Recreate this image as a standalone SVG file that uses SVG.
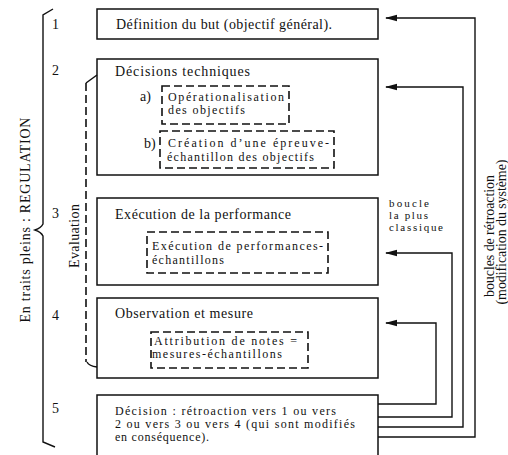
<svg xmlns="http://www.w3.org/2000/svg" width="508" height="455" viewBox="0 0 508 455">
<style>
text{font-family:"Liberation Serif","Times New Roman",serif;font-size:12px;fill:#111}
.h{font-size:14px}
.s{font-size:11px}
.box{fill:none;stroke:#111;stroke-width:1.5}
.dash{fill:none;stroke:#111;stroke-width:1.6;stroke-dasharray:8 4}
.line{fill:none;stroke:#111;stroke-width:1.4}
</style>
<defs>
<marker id="ah" viewBox="0 0 12 8" refX="11" refY="4" markerWidth="12" markerHeight="8" markerUnits="userSpaceOnUse" orient="auto">
<path d="M0,4 L12,0.8 L12,7.2 Z" fill="#111" transform="rotate(180 6 4)"/>
</marker>
</defs>
<rect width="508" height="455" fill="#fff"/>

<g id="regulation-brace">
<path class="line" d="M53,9 L43,15 L43,224 Q41,228 35,230 Q41,232 43,236 L43,442 L55,447"/>
<text class="h" transform="translate(30,220) rotate(-90)" text-anchor="middle" textLength="205">En traits pleins : REGULATION</text>
</g>

<g id="evaluation-bracket">
<path class="dash" d="M86,83 L86,362"/>
<path class="line" d="M86,83 L97,75"/>
<path class="line" d="M87,362 Q89,366 97,367"/>
<text class="h" transform="translate(79,236) rotate(-90)" text-anchor="middle" textLength="64">Evaluation</text>
</g>

<g id="numbers">
<text class="h" x="52" y="29">1</text>
<text class="h" x="52" y="75">2</text>
<text class="h" x="52" y="218">3</text>
<text class="h" x="52" y="320">4</text>
<text class="h" x="52" y="413">5</text>
</g>

<g id="node1">
<rect class="box" x="97" y="9" width="281" height="30"/>
<text class="h" x="116" y="29" textLength="216">Définition du but (objectif général).</text>
</g>

<g id="node2">
<rect class="box" x="97" y="59" width="281" height="116"/>
<text class="h" x="115" y="76" textLength="135">Décisions techniques</text>
<text class="h" x="140" y="101">a)</text>
<text class="h" x="144" y="148">b)</text>
</g>
<g id="node2a">
<rect class="dash" x="162" y="86" width="127" height="38"/>
<text x="168" y="101" textLength="116">Opérationalisation</text>
<text x="168" y="114" textLength="77">des objectifs</text>
</g>
<g id="node2b">
<rect class="dash" x="160" y="131" width="174" height="37"/>
<text x="168" y="147" textLength="161">Création d’une épreuve-</text>
<text x="167" y="161" textLength="147">échantillon des objectifs</text>
</g>

<g id="node3">
<rect class="box" x="97" y="198" width="281" height="87"/>
<text class="h" x="115" y="219" textLength="176">Exécution de la performance</text>
</g>
<g id="node3a">
<rect class="dash" x="147" y="232" width="181" height="41"/>
<text x="152" y="250" textLength="171">Exécution de performances-</text>
<text x="152" y="264" textLength="72">échantillons</text>
</g>

<g id="node4">
<rect class="box" x="97" y="298" width="281" height="80"/>
<text class="h" x="115" y="318" textLength="138">Observation et mesure</text>
</g>
<g id="node4a">
<rect class="dash" x="151" y="332" width="157" height="36"/>
<text x="154" y="345" textLength="143">Attribution de notes =</text>
<text x="152" y="358" textLength="130">mesures-échantillons</text>
</g>

<g id="node5">
<path class="box" d="M97,455 L97,395 L378,395 L378,455"/>
<text x="115" y="415" textLength="221">Décision : rétroaction vers 1 ou vers</text>
<text x="115" y="428" textLength="240">2 ou vers 3 ou vers 4 (qui sont modifiés</text>
<text x="115" y="441" textLength="94">en conséquence).</text>
</g>

<g id="connectors">
<path class="line" d="M378,404 L436,404 L436,323 L386,323" marker-end="url(#ah)"/>
<path class="line" d="M378,417 L452,417 L452,253 L386,253" marker-end="url(#ah)"/>
<path class="line" d="M378,427 L463,427 L463,87 L386,87" marker-end="url(#ah)"/>
<path class="line" d="M378,437 L475,437 L475,18 L386,18" marker-end="url(#ah)"/>
</g>

<g id="labels">
<text class="s" x="389" y="207" textLength="40">boucle</text>
<text class="s" x="389" y="219" textLength="39">la plus</text>
<text class="s" x="389" y="231" textLength="54">classique</text>
<text class="h" transform="translate(494,236) rotate(-90)" text-anchor="middle" textLength="122">boucles de rétroaction</text>
<text class="h" transform="translate(506,232) rotate(-90)" text-anchor="middle" textLength="145">(modification du système)</text>
</g>
</svg>
